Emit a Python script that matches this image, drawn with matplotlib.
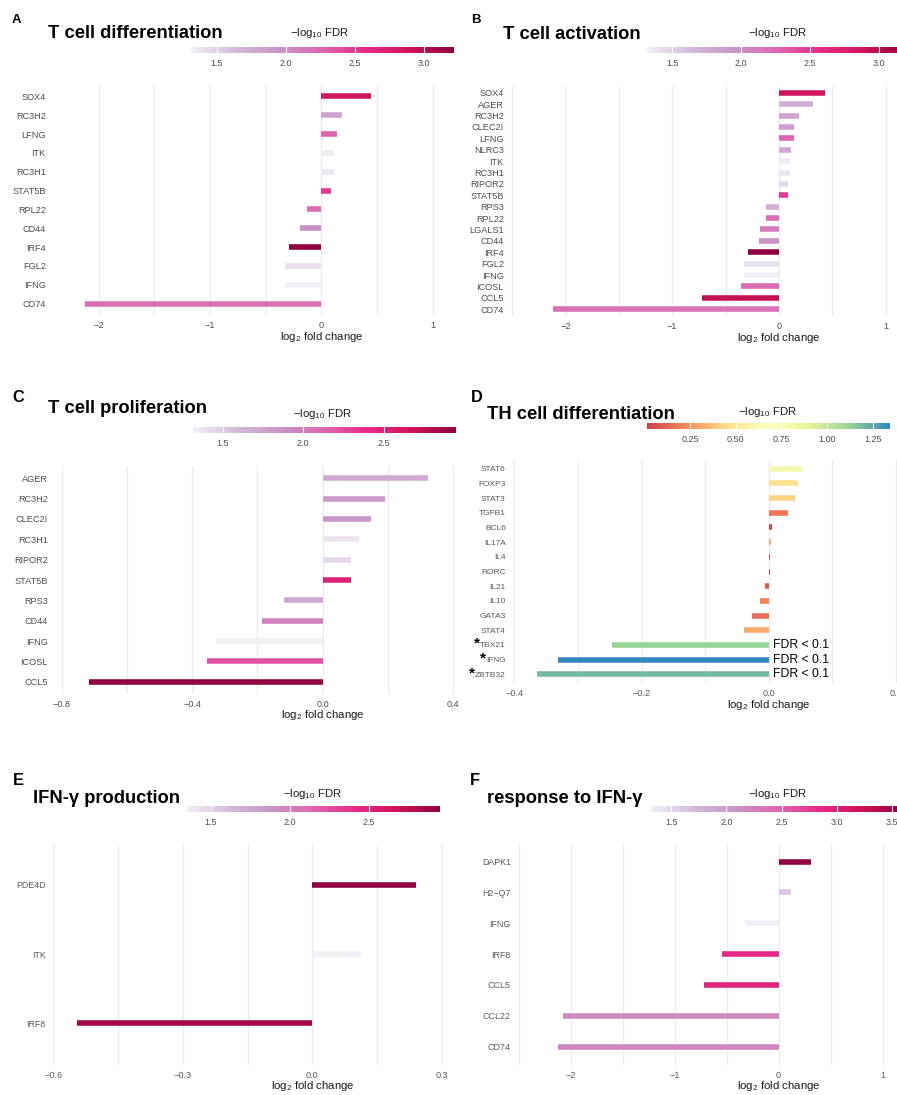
import matplotlib
matplotlib.use("Agg")
import matplotlib.pyplot as plt
import numpy as np
from matplotlib.colors import LinearSegmentedColormap, Normalize
from matplotlib.cm import ScalarMappable

plt.rcParams['font.family'] = ['Liberation Sans', 'DejaVu Sans']
plt.rcParams['mathtext.fontset'] = 'custom'
plt.rcParams['mathtext.rm'] = 'Liberation Sans'
plt.rcParams['mathtext.it'] = 'Liberation Sans:italic'
plt.rcParams['mathtext.bf'] = 'Liberation Sans:bold'

# ---------------- data ----------------
a_genes = ["SOX4", "RC3H2", "LFNG", "ITK", "RC3H1", "STAT5B", "RPL22", "CD44",
           "IRF4", "FGL2", "IFNG", "CD74"]
a_lfc = [0.445, 0.19, 0.143, 0.113, 0.111, 0.09, -0.126, -0.19, -0.29, -0.325, -0.33, -2.12]
a_fdr = [2.85, 1.82, 2.27, 1.35, 1.36, 2.50, 2.22, 1.97, 3.22, 1.40, 1.315, 2.20]

b_genes = ["SOX4", "AGER", "RC3H2", "CLEC2I", "LFNG", "NLRC3", "ITK", "RC3H1", "RIPOR2",
           "STAT5B", "RPS3", "RPL22", "LGALS1", "CD44", "IRF4", "FGL2", "IFNG", "ICOSL",
           "CCL5", "CD74"]
b_lfc = [0.43, 0.32, 0.188, 0.145, 0.138, 0.11, 0.107, 0.106, 0.085, 0.085, -0.12, -0.125,
         -0.178, -0.19, -0.29, -0.325, -0.33, -0.355, -0.718, -2.12]
b_fdr = [2.85, 1.72, 1.82, 1.85, 2.27, 1.78, 1.35, 1.36, 1.45, 2.50, 1.72, 2.22, 2.12,
         1.97, 3.22, 1.40, 1.315, 2.22, 2.95, 2.20]

c_genes = ["AGER", "RC3H2", "CLEC2I", "RC3H1", "RIPOR2", "STAT5B", "RPS3", "CD44",
           "IFNG", "ICOSL", "CCL5"]
c_lfc = [0.323, 0.19, 0.147, 0.11, 0.088, 0.086, -0.12, -0.187, -0.328, -0.354, -0.717]
c_fdr = [1.72, 1.82, 1.85, 1.36, 1.45, 2.50, 1.72, 1.97, 1.315, 2.22, 2.95]

d_genes = ["STAT6", "FOXP3", "STAT3", "TGFB1", "BCL6", "IL17A", "IL4", "RORC", "IL21",
           "IL10", "GATA3", "STAT4", "TBX21", "IFNG", "ZBTB32"]
d_lfc = [0.052, 0.046, 0.042, 0.030, 0.005, 0.004, 0.002, 0.0015, -0.006, -0.013,
         -0.027, -0.039, -0.247, -0.331, -0.365]
d_fdr = [0.78, 0.47, 0.42, 0.17, 0.03, 0.32, 0.04, 0.015, 0.09, 0.20, 0.14, 0.32,
         1.12, 1.343, 1.20]
d_star_genes = ["TBX21", "IFNG", "ZBTB32"]
d_note = "FDR < 0.1"

e_genes = ["PDE4D", "ITK", "IRF8"]
e_lfc = [0.240, 0.113, -0.544]
e_fdr = [2.95, 1.35, 2.86]

f_genes = ["DAPK1", "H2\u2212Q7", "IFNG", "IRF8", "CCL5", "CCL22", "CD74"]
f_lfc = [0.314, 0.122, -0.327, -0.54, -0.714, -2.07, -2.12]
f_fdr = [3.62, 1.62, 1.315, 2.86, 2.95, 2.15, 2.20]

ticks_lfc_big = [-2, -1, 0, 1]
ticks_lfc_big_lbl = ["\u22122", "\u22121", "0", "1"]
ticks_c = [-0.8, -0.4, 0.0, 0.4]
ticks_c_lbl = ["\u22120.8", "\u22120.4", "0.0", "0.4"]
ticks_d = [-0.4, -0.2, 0.0, 0.2]
ticks_d_lbl = ["\u22120.4", "\u22120.2", "0.0", "0.2"]
ticks_e = [-0.6, -0.3, 0.0, 0.3]
ticks_e_lbl = ["\u22120.6", "\u22120.3", "0.0", "0.3"]

cb_ticks_a = [1.5, 2.0, 2.5, 3.0]
cb_ticks_c = [1.5, 2.0, 2.5]
cb_ticks_d = [0.25, 0.50, 0.75, 1.00, 1.25]
cb_ticks_f = [1.5, 2.0, 2.5, 3.0, 3.5]

puRd = LinearSegmentedColormap.from_list(
    "purd7", ['#F1EEF6', '#D4B9DA', '#C994C7', '#DF65B0', '#E7298A', '#CE1256', '#91003F'])
spectral = LinearSegmentedColormap.from_list(
    "spec7", ['#D53E4F', '#FC8D59', '#FEE08B', '#FFFFBF', '#E6F598', '#99D594', '#3288BD'])

# ---------------- layout ----------------
W, H = 897, 1095
fig = plt.figure(figsize=(W / 100, H / 100), dpi=100)


def px_axes(l, t, r, b):
    return fig.add_axes([l / W, 1 - b / H, (r - l) / W, (b - t) / H])


def fx(x):
    return x / W


def fy(y):
    return 1 - y / H


GRID = '#EBEBEB'


def panel(letter, letter_xy, letter_fs, title, title_xy, title_fs,
          genes, lfc, fdr, cmap, rect, xlim, major, major_lbl, minor,
          cbrect, cb_ticks, cb_fmt, cblabel_xy, ytick_fs, ytick_color,
          xlab_off, lw=4.0):
    n = len(genes)
    ax = px_axes(*rect)
    ypos = np.arange(n)
    norm = Normalize(min(fdr), max(fdr))
    cols = cmap(norm(np.array(fdr)))
    ax.hlines(ypos, 0, lfc, colors=cols, linewidth=lw, zorder=3)
    ax.set_xlim(*xlim)
    ax.set_ylim(n - 0.4, -0.6)
    ax.set_xticks(major)
    ax.set_xticklabels(major_lbl)
    ax.set_xticks(minor, minor=True)
    ax.set_yticks(ypos)
    ax.set_yticklabels(genes)
    ax.set_axisbelow(True)
    ax.grid(axis='x', which='major', color=GRID, lw=0.9, zorder=0)
    ax.grid(axis='x', which='minor', color=GRID, lw=0.8, zorder=0)
    ax.grid(axis='y', visible=False)
    for s in ax.spines.values():
        s.set_visible(False)
    ax.tick_params(axis='both', which='both', length=0)
    ax.tick_params(axis='y', labelsize=ytick_fs, labelcolor=ytick_color, pad=3)
    ax.tick_params(axis='x', labelsize=6.6, labelcolor=ytick_color, pad=4)
    ax.patch.set_visible(False)
    ax.annotate(r"$\mathregular{log_2}$ fold change", xy=(0, 0),
                xycoords=('data', 'axes fraction'), xytext=(0, -xlab_off),
                textcoords='offset points', ha='center', va='center',
                fontsize=8.2, color='#1a1a1a')

    # colorbar
    cax = px_axes(*cbrect)
    sm = ScalarMappable(norm=norm, cmap=cmap)
    cb = fig.colorbar(sm, cax=cax, orientation='horizontal')
    cb.outline.set_visible(False)
    cb.set_ticks(cb_ticks)
    cb.set_ticklabels([cb_fmt % t for t in cb_ticks])
    cax.tick_params(length=0, labelsize=6.5, labelcolor='#4D4D4D', pad=4.3)
    for t in cb_ticks:
        cax.axvline(t, color='white', lw=0.8)
    fig.text(fx(cblabel_xy[0]), fy(cblabel_xy[1]), r"$\mathregular{-log_{10}}$ FDR",
             ha='center', va='baseline', fontsize=8.2, color='#1a1a1a')

    fig.text(fx(title_xy[0]), fy(title_xy[1]), title, fontweight='bold',
             fontsize=title_fs, va='baseline', ha='left', color='black')
    fig.text(fx(letter_xy[0]), fy(letter_xy[1]), letter, fontweight='bold',
             fontsize=letter_fs, va='baseline', ha='left', color='black')
    return ax


axA = panel("A", (11.7, 22.7), 9.5, "T cell differentiation", (48, 37.7), 13.2,
            a_genes, a_lfc, a_fdr, puRd, (50, 85, 454, 315), (-2.436, 1.192),
            ticks_lfc_big, ticks_lfc_big_lbl, [-1.5, -0.5, 0.5],
            (191, 46.7, 454, 53.3), cb_ticks_a, "%.1f", (320, 35.7), 6.6, '#4D4D4D', 16)

axB = panel("B", (470.7, 22.7), 9.5, "T cell activation", (503.3, 39), 13.2,
            b_genes, b_lfc, b_fdr, puRd, (508, 86, 897, 316), (-2.537, 1.106),
            ticks_lfc_big, ticks_lfc_big_lbl, [-2.5, -1.5, -0.5, 0.5],
            (647, 46.7, 909, 53.3), cb_ticks_a, "%.1f", (778, 36), 6.6, '#4D4D4D', 15.5)

axC = panel("C", (12.7, 401.7), 11.8, "T cell proliferation", (48.3, 413.3), 13.2,
            c_genes, c_lfc, c_fdr, puRd, (52, 466, 458, 694), (-0.830, 0.415),
            ticks_c, ticks_c_lbl, [-0.6, -0.2, 0.2],
            (193, 426.7, 456, 432.7), cb_ticks_c, "%.1f", (323, 417.3), 6.6, '#4D4D4D', 15)

axD = panel("D", (471, 401.7), 11.8, "TH cell differentiation", (486.7, 419), 13.2,
            d_genes, d_lfc, d_fdr, spectral, (510, 460, 897, 683), (-0.4068, 0.2017),
            ticks_d, ticks_d_lbl, [-0.3, -0.1, 0.1],
            (647, 423.3, 890, 429.3), cb_ticks_d, "%.2f", (768, 415.3), 6.0, '#5A5A5A', 15.5)

axE = panel("E", (12.7, 785), 11.8, "IFN-\u03b3 production", (33.3, 803.3), 13.2,
            e_genes, e_lfc, e_fdr, puRd, (50, 843, 446, 1065), (-0.6075, 0.3095),
            ticks_e, ticks_e_lbl, [-0.45, -0.15, 0.15],
            (187, 806, 440, 812.3), cb_ticks_c, "%.1f", (313, 796.7), 6.4, '#5A5A5A', 15)

axF = panel("F", (470, 785), 11.8, "response to IFN-\u03b3", (486.7, 803.3), 13.2,
            f_genes, f_lfc, f_fdr, puRd, (515, 843, 897, 1065), (-2.534, 1.138),
            ticks_lfc_big, ticks_lfc_big_lbl, [-2.5, -1.5, -0.5, 0.5],
            (651, 806, 905, 812.3), cb_ticks_f, "%.1f", (778, 796.7), 6.4, '#5A5A5A', 15)

# FDR notes and asterisks on panel D
for g in d_star_genes:
    yi = d_genes.index(g)
    axD.annotate(d_note, xy=(0, yi), xycoords='data', xytext=(3, 0),
                 textcoords='offset points', ha='left', va='center',
                 fontsize=8.8, color='black', zorder=5)

fig.canvas.draw()
renderer = fig.canvas.get_renderer()
for lbl in axD.get_yticklabels():
    if lbl.get_text() in d_star_genes:
        bb = lbl.get_window_extent(renderer)
        cy = (bb.y0 + bb.y1) / 2
        fig.text((bb.x0 - 3.5) / W, (cy + 6.5 - 8.5) / H, "*", fontsize=11,
                 fontweight='bold', ha='center', va='baseline', color='black')

fig.savefig("out.png", dpi=100)
